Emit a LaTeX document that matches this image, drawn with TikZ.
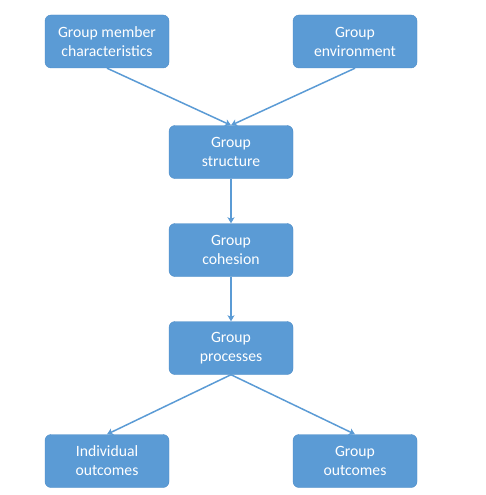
\documentclass[tikz,border=0pt]{standalone}
\usepackage{fontspec}
\setmainfont{Carlito}
\usetikzlibrary{arrows.meta}
\definecolor{boxblue}{HTML}{5B9BD5}
\definecolor{boxedge}{HTML}{4A8AC6}

\begin{document}
\begin{tikzpicture}[x=1pt, y=-1pt, every node/.style={font=\fontsize{15.7}{19}\selectfont}, >={Stealth[length=6pt, width=7pt, inset=1.5pt]}, b/.style={draw=boxedge, fill=boxblue, rounded corners=6pt, text=white, align=center, minimum width=124pt, minimum height=53pt, inner sep=0pt}, link/.style={->, line width=1.5pt, boxblue}]
	\useasboundingbox (0,0) rectangle (485,495);
	\node[b] (member) at (107,41.5) {Group member\\characteristics}; \node[b] (env) at (355,41.5) {Group\\environment};
	\node[b] (struct) at (231,152) {Group\\structure}; \node[b] (cohesion) at (231,250) {Group\\cohesion}; \node[b] (proc) at (231,348) {Group\\processes};
	\node[b] (indiv) at (107,461) {Individual\\outcomes}; \node[b] (groupout) at (355,461) {Group\\outcomes};
	\draw[link] (member.south) -- (struct.north); \draw[link] (env.south) -- (struct.north);
	\draw[link] (struct) -- (cohesion); \draw[link] (cohesion) -- (proc);
	\draw[link] (proc.south) -- (indiv.north); \draw[link] (proc.south) -- (groupout.north);
\end{tikzpicture}
\end{document}
